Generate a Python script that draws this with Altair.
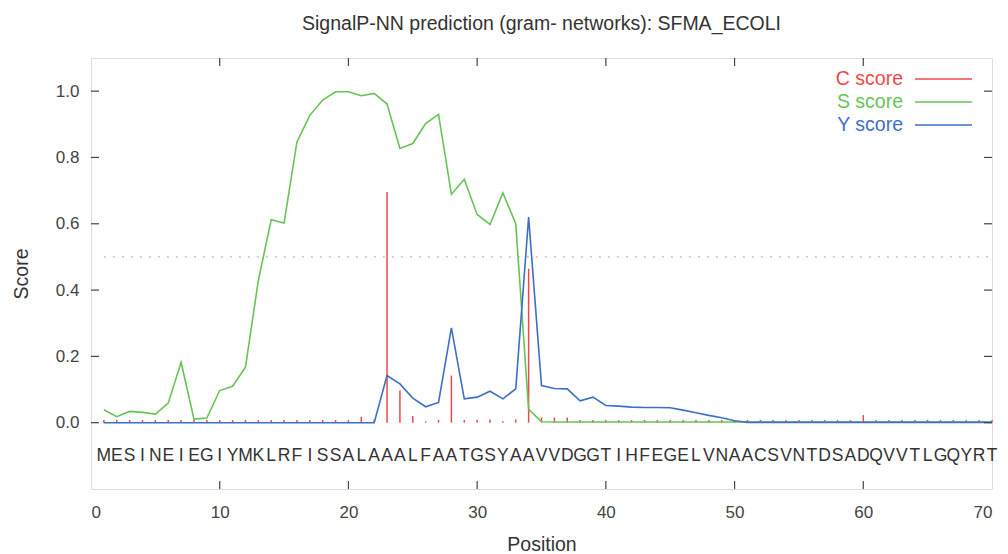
import altair as alt
import pandas as pd

positions = list(range(1, 71))
sequence = list("MESINEIEGIYMKLRFISSALAAALFAATGSYAAVVDGGTIHFEGELVNAACSVNTDSADQVVTLGQYRT")

c_score = [0.008, 0.008, 0.008, 0.008, 0.008, 0.008, 0.008, 0.008, 0.008, 0.008,
           0.008, 0.008, 0.008, 0.008, 0.008, 0.008, 0.008, 0.008, 0.008, 0.008,
           0.018, 0.008, 0.696, 0.097, 0.020, 0.004, 0.008, 0.142, 0.008, 0.008,
           0.010, 0.004, 0.010, 0.464, 0.016, 0.016, 0.016, 0.008, 0.008, 0.008,
           0.008, 0.008, 0.008, 0.008, 0.008, 0.008, 0.008, 0.008, 0.008, 0.008,
           0.008, 0.008, 0.008, 0.008, 0.008, 0.008, 0.008, 0.008, 0.008, 0.023,
           0.008, 0.008, 0.008, 0.008, 0.008, 0.008, 0.008, 0.008, 0.008, 0.008]

s_score = [0.039, 0.018, 0.034, 0.031, 0.026, 0.059, 0.182, 0.011, 0.014, 0.097,
           0.110, 0.167, 0.429, 0.612, 0.602, 0.847, 0.927, 0.973, 0.998, 0.998,
           0.986, 0.993, 0.961, 0.827, 0.842, 0.902, 0.930, 0.689, 0.734, 0.628,
           0.598, 0.693, 0.600, 0.040, 0.003, 0.002, 0.002, 0.002, 0.002, 0.002,
           0.002, 0.002, 0.002, 0.002, 0.002, 0.002, 0.002, 0.002, 0.002, 0.002,
           0.002, 0.002, 0.002, 0.002, 0.002, 0.002, 0.002, 0.002, 0.002, 0.002,
           0.002, 0.002, 0.002, 0.002, 0.002, 0.002, 0.002, 0.002, 0.002, 0.002]

y_score = [0.0, 0.0, 0.0, 0.0, 0.0, 0.0, 0.0, 0.0, 0.0, 0.0,
           0.0, 0.0, 0.0, 0.0, 0.0, 0.0, 0.0, 0.0, 0.0, 0.0,
           0.0, 0.0, 0.142, 0.117, 0.074, 0.048, 0.061, 0.286, 0.072, 0.077,
           0.095, 0.072, 0.102, 0.620, 0.112, 0.103, 0.102, 0.066, 0.077, 0.052,
           0.050, 0.047, 0.046, 0.046, 0.045, 0.038, 0.030, 0.022, 0.015, 0.006,
           0.001, 0.001, 0.001, 0.001, 0.001, 0.001, 0.001, 0.001, 0.001, 0.001,
           0.001, 0.001, 0.001, 0.001, 0.001, 0.001, 0.001, 0.001, 0.001, 0.001]

x_ticks = [0, 10, 20, 30, 40, 50, 60, 70]
y_ticks = [0.0, 0.2, 0.4, 0.6, 0.8, 1.0]
threshold = 0.5

RED = "#f04848"
GREEN = "#66c455"
BLUE = "#3d6fc4"
FONT = "Liberation Sans"

W, H = 901, 431

df = pd.DataFrame({"pos": positions, "aa": sequence, "C": c_score, "S": s_score, "Y": y_score})
xt = pd.DataFrame({"t": x_ticks[1:-1]})
yt = pd.DataFrame({"t": y_ticks})

xscale = alt.Scale(domain=[0, 70], nice=False, zero=False)
yscale = alt.Scale(domain=[-0.2, 1.1], nice=False, zero=False)

xaxis = alt.Axis(values=x_ticks, grid=False, domain=False, ticks=False, labelFont=FONT,
                 labelFontSize=17, labelColor="#444", labelPadding=15, title="Position",
                 titleFont=FONT, titleFontSize=19.5, titleFontWeight="normal", titleColor="#333",
                 titlePadding=15)
yaxis = alt.Axis(values=y_ticks, format=".1f", grid=False, domain=False, ticks=False,
                 labelFont=FONT, labelFontSize=17, labelColor="#444", labelPadding=12,
                 title="Score", titleFont=FONT, titleFontSize=19.5, titleFontWeight="normal",
                 titleColor="#333", titlePadding=24)

base = alt.Chart(df).transform_calculate(lev="-0.1", zero="0")

letters = base.mark_text(font=FONT, fontSize=17.5, color="#333", baseline="middle").encode(
    x=alt.X("pos:Q", scale=xscale, axis=xaxis),
    y=alt.Y("lev:Q", scale=yscale, axis=yaxis),
    text="aa:N",
)

thr = alt.Chart(pd.DataFrame({"x1": [1], "x2": [70], "y": [threshold]})).mark_rule(
    color="#d4a9bc", strokeDash=[2, 7], strokeWidth=1.2
).encode(x=alt.X("x1:Q", scale=xscale), x2="x2:Q", y=alt.Y("y:Q", scale=yscale))

c_imp = base.mark_rule(color=RED, strokeWidth=1.5).encode(
    x=alt.X("pos:Q", scale=xscale), y=alt.Y("zero:Q", scale=yscale), y2="C:Q"
)
s_line = base.mark_line(color=GREEN, strokeWidth=1.6).encode(
    x=alt.X("pos:Q", scale=xscale), y=alt.Y("S:Q", scale=yscale)
)
y_line = base.mark_line(color=BLUE, strokeWidth=1.6).encode(
    x=alt.X("pos:Q", scale=xscale), y=alt.Y("Y:Q", scale=yscale)
)

tick_col = "#444"
xb = alt.Chart(xt).mark_rule(color=tick_col, strokeWidth=1.2).encode(
    x=alt.X("t:Q", scale=xscale), y=alt.value(H), y2=alt.value(H - 8))
xtop = alt.Chart(xt).mark_rule(color=tick_col, strokeWidth=1.2).encode(
    x=alt.X("t:Q", scale=xscale), y=alt.value(0), y2=alt.value(8))
yl = alt.Chart(yt).mark_rule(color=tick_col, strokeWidth=1.2).encode(
    y=alt.Y("t:Q", scale=yscale), x=alt.value(0), x2=alt.value(8))
yr = alt.Chart(yt).mark_rule(color=tick_col, strokeWidth=1.2).encode(
    y=alt.Y("t:Q", scale=yscale), x=alt.value(W - 8), x2=alt.value(W))

leg_names = ["C score", "S score", "Y score"]
leg_colors = [RED, GREEN, BLUE]
legend_layers = []
for i, (name, col) in enumerate(zip(leg_names, leg_colors)):
    ypix = 21 + 23 * i
    ld = pd.DataFrame({"name": [name]})
    legend_layers.append(
        alt.Chart(ld).mark_text(font=FONT, fontSize=19.5, color=col, align="right", baseline="middle").encode(
            x=alt.value(812), y=alt.value(ypix), text="name:N"))
    legend_layers.append(
        alt.Chart(ld).mark_rule(color=col, strokeWidth=1.6).encode(
            x=alt.value(824), x2=alt.value(881), y=alt.value(ypix)))

chart = alt.layer(letters, thr, c_imp, s_line, y_line, xb, xtop, yl, yr, *legend_layers).properties(
    width=W, height=H,
    title=alt.TitleParams("SignalP-NN prediction (gram- networks): SFMA_ECOLI", font=FONT,
                          fontSize=19.5, fontWeight="normal", color="#333", anchor="middle", offset=23),
    autosize=alt.AutoSizeParams(type="none"),
    padding={"left": 83, "top": 50, "right": 8, "bottom": 64},
).configure_view(stroke="#333", strokeWidth=1.6).configure(background="white")

chart.save("out.html", embed_options={"renderer": "svg", "actions": False})
